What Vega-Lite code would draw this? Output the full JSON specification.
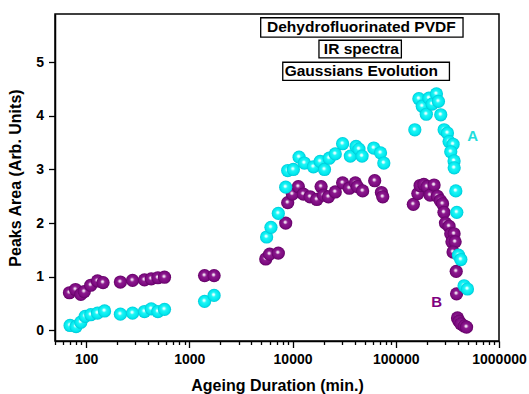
{
  "$schema": "https://vega.github.io/schema/vega-lite/v6.json",
  "width": 444,
  "height": 327,
  "autosize": "none",
  "padding": {"left": 55, "top": 14, "right": 30, "bottom": 53},
  "background": "white",
  "config": {
    "font": "Liberation Sans",
    "view": {"stroke": "#000000", "strokeWidth": 1.5},
    "axis": {
      "grid": false,
      "domainColor": "#000000",
      "domainWidth": 1.5,
      "tickColor": "#000000",
      "tickWidth": 1.3,
      "labelColor": "#000000",
      "labelFont": "Liberation Sans",
      "labelFontWeight": "bold",
      "labelFontSize": 14,
      "labelFlush": false,
      "labelOverlap": false,
      "titleColor": "#000000",
      "titleFont": "Liberation Sans",
      "titleFontWeight": "bold",
      "titleFontSize": 16
    }
  },
  "datasets": {
    "A": [
      {"t": 70, "v": 0.09}, {"t": 80, "v": 0.07}, {"t": 89, "v": 0.15}, {"t": 98, "v": 0.26}, {"t": 111, "v": 0.29}, {"t": 129, "v": 0.32}, {"t": 151, "v": 0.36},
      {"t": 215, "v": 0.30}, {"t": 282, "v": 0.32}, {"t": 368, "v": 0.35}, {"t": 428, "v": 0.40}, {"t": 496, "v": 0.35}, {"t": 575, "v": 0.39},
      {"t": 1406, "v": 0.54}, {"t": 1738, "v": 0.65},
      {"t": 5610, "v": 1.74}, {"t": 6180, "v": 1.92}, {"t": 7280, "v": 2.18}, {"t": 8590, "v": 2.67}, {"t": 8980, "v": 2.98}, {"t": 10180, "v": 3.00}, {"t": 11570, "v": 3.23}, {"t": 13020, "v": 3.12}, {"t": 15930, "v": 3.05}, {"t": 18520, "v": 3.15}, {"t": 20400, "v": 3.00}, {"t": 22660, "v": 3.21}, {"t": 25940, "v": 3.29}, {"t": 30550, "v": 3.48}, {"t": 36300, "v": 3.25}, {"t": 41240, "v": 3.43}, {"t": 44000, "v": 3.38}, {"t": 47150, "v": 3.25}, {"t": 61200, "v": 3.40}, {"t": 71200, "v": 3.31}, {"t": 76600, "v": 3.12},
      {"t": 153000, "v": 3.74}, {"t": 167500, "v": 4.32}, {"t": 180600, "v": 4.18}, {"t": 197600, "v": 4.03}, {"t": 209700, "v": 4.33}, {"t": 225000, "v": 4.22}, {"t": 247600, "v": 4.41}, {"t": 259000, "v": 4.27}, {"t": 272800, "v": 4.02}, {"t": 294000, "v": 3.74}, {"t": 316800, "v": 3.68}, {"t": 328300, "v": 3.52}, {"t": 359000, "v": 3.47}, {"t": 341000, "v": 3.33}, {"t": 367000, "v": 3.16}, {"t": 368000, "v": 3.03}, {"t": 381700, "v": 2.60}, {"t": 390000, "v": 2.20}, {"t": 405000, "v": 1.40}, {"t": 427000, "v": 1.32}, {"t": 459000, "v": 0.83}, {"t": 495000, "v": 0.77}
    ],
    "B": [
      {"t": 69, "v": 0.70}, {"t": 79, "v": 0.76}, {"t": 89, "v": 0.67}, {"t": 96, "v": 0.72}, {"t": 111, "v": 0.84}, {"t": 129, "v": 0.92}, {"t": 146, "v": 0.89},
      {"t": 215, "v": 0.90}, {"t": 282, "v": 0.93}, {"t": 368, "v": 0.94}, {"t": 428, "v": 0.96}, {"t": 496, "v": 0.98}, {"t": 575, "v": 0.99},
      {"t": 1406, "v": 1.02}, {"t": 1738, "v": 1.02},
      {"t": 5500, "v": 1.33}, {"t": 6000, "v": 1.42}, {"t": 7280, "v": 1.44}, {"t": 8590, "v": 2.00}, {"t": 8980, "v": 2.38}, {"t": 9960, "v": 2.54}, {"t": 11380, "v": 2.68}, {"t": 12730, "v": 2.54}, {"t": 14790, "v": 2.49}, {"t": 17180, "v": 2.44}, {"t": 18910, "v": 2.68}, {"t": 19950, "v": 2.52}, {"t": 22290, "v": 2.49}, {"t": 25940, "v": 2.58}, {"t": 30550, "v": 2.75}, {"t": 35480, "v": 2.65}, {"t": 40580, "v": 2.75}, {"t": 42500, "v": 2.68}, {"t": 47790, "v": 2.60}, {"t": 62500, "v": 2.79}, {"t": 72600, "v": 2.57}, {"t": 74800, "v": 2.49},
      {"t": 148000, "v": 2.35}, {"t": 163500, "v": 2.55}, {"t": 172000, "v": 2.70}, {"t": 187000, "v": 2.72}, {"t": 201000, "v": 2.68}, {"t": 215000, "v": 2.52}, {"t": 235000, "v": 2.71}, {"t": 253000, "v": 2.50}, {"t": 270000, "v": 2.42}, {"t": 284000, "v": 2.36}, {"t": 293000, "v": 2.20}, {"t": 303000, "v": 2.00}, {"t": 328000, "v": 1.94}, {"t": 341000, "v": 1.80}, {"t": 367000, "v": 1.80}, {"t": 350000, "v": 1.65}, {"t": 376000, "v": 1.65}, {"t": 359000, "v": 1.46}, {"t": 385000, "v": 1.10}, {"t": 388000, "v": 0.68}, {"t": 396000, "v": 0.23}, {"t": 410000, "v": 0.17}, {"t": 427000, "v": 0.12}, {"t": 460000, "v": 0.08}, {"t": 485000, "v": 0.06}
    ],
    "boxes": [
      {"t": 4915, "t2": 448300, "v": 5.83, "v2": 5.47},
      {"t": 18030, "t2": 113300, "v": 5.41, "v2": 5.08},
      {"t": 8040, "t2": 331000, "v": 5.00, "v2": 4.66}
    ],
    "titles": [
      {"t": 46400, "v": 5.65, "label": "Dehydrofluorinated PVDF"},
      {"t": 46400, "v": 5.245, "label": "IR spectra"},
      {"t": 46400, "v": 4.83, "label": "Gaussians Evolution"}
    ],
    "series": [
      {"t": 555000, "v": 3.63, "label": "A"},
      {"t": 249500, "v": 0.52, "label": "B"}
    ]
  },
  "encoding": {
    "x": {
      "field": "t",
      "type": "quantitative",
      "title": "Ageing Duration (min.)",
      "scale": {"type": "log", "domain": [50, 1000000], "nice": false},
      "axis": {
        "values": [50, 60, 70, 80, 90, 100, 200, 300, 400, 500, 600, 700, 800, 900, 1000, 2000, 3000, 4000, 5000, 6000, 7000, 8000, 9000, 10000, 20000, 30000, 40000, 50000, 60000, 70000, 80000, 90000, 100000, 200000, 300000, 400000, 500000, 600000, 700000, 800000, 900000, 1000000],
        "format": "d",
        "labelExpr": "indexof([100, 1000, 10000, 100000, 1000000], datum.value) >= 0 ? datum.label : ''",
        "tickSize": {"condition": {"test": "indexof([100, 1000, 10000, 100000, 1000000], datum.value) >= 0", "value": 6.5}, "value": 3.5},
        "labelPadding": 5,
        "titlePadding": 11
      }
    },
    "y": {
      "field": "v",
      "type": "quantitative",
      "title": "Peaks Area (Arb. Units)",
      "scale": {"domain": [-0.2, 5.9], "nice": false, "zero": false},
      "axis": {"values": [0, 1, 2, 3, 4, 5], "tickSize": 6.5, "labelPadding": 5, "titlePadding": 12}
    }
  },
  "layer": [
    {
      "data": {"name": "boxes"},
      "mark": {"type": "rect", "fill": "#ffffff", "stroke": "#000000", "strokeWidth": 1.3},
      "encoding": {"x2": {"field": "t2"}, "y2": {"field": "v2"}}
    },
    {
      "data": {"name": "titles"},
      "mark": {"type": "text", "font": "Liberation Sans", "fontWeight": "bold", "fontSize": 15.5, "color": "#000000", "align": "center", "baseline": "middle"},
      "encoding": {"text": {"field": "label"}}
    },
    {
      "data": {"name": "B"},
      "mark": {
        "type": "point", "shape": "circle", "filled": true, "size": 175, "opacity": 1, "strokeWidth": 0,
        "fill": {"gradient": "radial", "x1": 0.45, "y1": 0.42, "r1": 0, "x2": 0.5, "y2": 0.5, "r2": 0.5,
          "stops": [{"offset": 0, "color": "#ffffff"}, {"offset": 0.16, "color": "#e6c8e8"}, {"offset": 0.34, "color": "#8c1a8e"}, {"offset": 0.8, "color": "#7c0a80"}, {"offset": 1, "color": "#600062"}]}
      }
    },
    {
      "data": {"name": "A"},
      "mark": {
        "type": "point", "shape": "circle", "filled": true, "size": 175, "opacity": 1, "strokeWidth": 0,
        "fill": {"gradient": "radial", "x1": 0.45, "y1": 0.42, "r1": 0, "x2": 0.5, "y2": 0.5, "r2": 0.5,
          "stops": [{"offset": 0, "color": "#ffffff"}, {"offset": 0.16, "color": "#d0ffff"}, {"offset": 0.34, "color": "#1ef6f6"}, {"offset": 0.8, "color": "#00e8ee"}, {"offset": 1, "color": "#00c4d4"}]}
      }
    },
    {
      "data": {"name": "series"},
      "mark": {"type": "text", "font": "Liberation Sans", "fontWeight": "bold", "fontSize": 15, "align": "center", "baseline": "middle"},
      "encoding": {
        "text": {"field": "label"},
        "color": {"field": "label", "type": "nominal", "scale": {"domain": ["A", "B"], "range": ["#22dddd", "#800080"]}, "legend": null}
      }
    }
  ]
}
